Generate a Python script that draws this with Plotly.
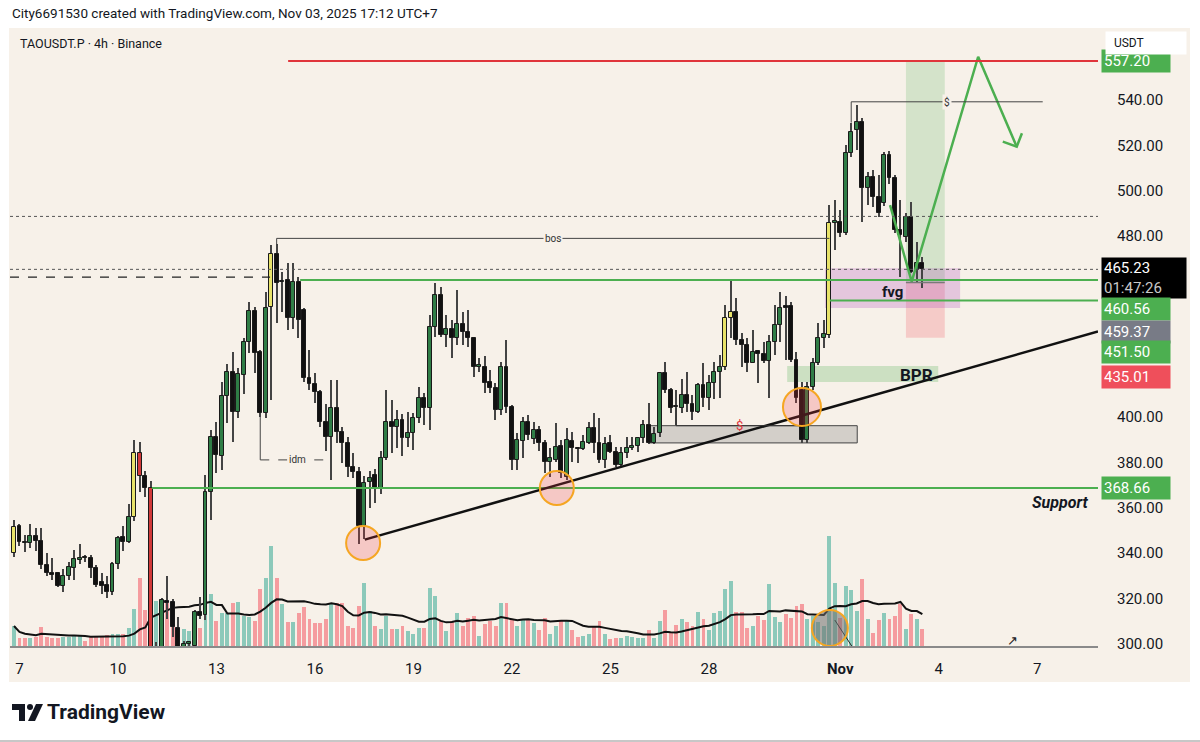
import plotly.graph_objects as go
import pandas as pd

# ---------------- data (4h candles, UTC+7) ----------------
t0 = pd.Timestamp("2025-10-06 23:00")
step = pd.Timedelta(hours=4)

opens = [340, 352, 345, 344.5, 347.5, 345.3, 334.6, 331, 331, 325.5,
         330, 333.5, 337, 338, 338, 333.5, 327, 326, 323, 335,
         347, 345, 356, 384, 374, 368.5, 285, 297, 319, 318.5,
         307, 298, 300, 299, 314, 312.6, 367, 391.2, 383, 409.3,
         420, 402.3, 418.6, 433.2, 446.8, 428.7, 401.8, 448.6, 472, 459.5,
         460.5, 443.8, 459.6, 447.3, 417.3, 414.6, 411, 397.8, 391, 404,
         393.4, 388.6, 378, 375.8, 352, 371.5, 374.4, 368.7, 382, 397.8,
         395.6, 398.7, 390.8, 393, 399.6, 408.4, 404, 439.8, 454, 436.2,
         439, 435, 441, 437.6, 435, 422.3, 422.3, 415.5, 412.8, 403,
         422, 404.5, 381, 389.4, 398, 390.5, 394.3, 388.6, 380.2, 381,
         387.2, 373.5, 389.5, 386.4, 386, 388.6, 395.2, 388.6, 381, 388.6,
         384.6, 379, 384, 386.4, 387.2, 390.6, 396.5, 388.6, 393, 419.5,
         412, 405, 404, 409.8, 406, 402.3, 414, 408.4, 415, 420,
         422, 443.8, 446.4, 434, 431.8, 424, 429, 428, 424.8, 433.2,
         440.7, 449, 449, 425.2, 412, 390, 413.3, 424, 435, 436.2,
         485.7, 486.2, 481.3, 516.6, 526.8, 530.3, 501, 506, 497.2, 494.5,
         515.7, 505.6, 482.6, 479.5, 488.4, 465, 468]
highs = [354.6, 353, 348, 353, 351, 351, 340, 338, 331.5, 333,
         336, 341.5, 344, 339, 339, 334.5, 331, 330, 336, 347.5,
         352, 361.5, 390, 389, 376, 372, 300.5, 320, 330, 319.5,
         311.6, 301, 301, 315, 320.5, 374.4, 394.3, 397.8, 415.5, 423.4,
         428.7, 421.7, 434.9, 450.8, 448.6, 429.5, 455.2, 476, 476.4, 464,
         468, 468, 462, 448.2, 429.6, 419.5, 412, 406, 416.4, 416.4,
         395.6, 391, 384, 378, 374, 376, 377, 385, 412, 407.5,
         403, 401.3, 402.3, 401.8, 413.3, 410.6, 445, 459.2, 457.4, 445,
         443, 456, 446.4, 447.3, 435.2, 426, 427, 421, 415, 424.5,
         434, 405.4, 393, 400, 401, 398, 396, 390, 386.4, 397.4,
         390, 395.2, 393.4, 386.9, 392, 397.8, 401.8, 399.6, 391, 392,
         386.8, 386.8, 391, 391, 391.2, 398.7, 406.2, 395.6, 420, 424.3,
         413, 412, 417, 420, 409.8, 415, 424, 418.6, 424.3, 427.4,
         449.5, 460.5, 452.6, 437, 435, 438.5, 429.5, 433, 436.2, 449.5,
         455.2, 453.5, 451, 428.7, 415.5, 415.5, 426, 441.5, 443, 493.6,
         496, 491.4, 520, 530, 537.8, 532, 508.2, 509, 507, 517,
         517.4, 507, 495.8, 490, 495, 477.3, 470.7]
lows = [338.2, 343, 340.5, 342, 341, 333, 330, 328, 325, 323,
        328, 328, 335, 336, 329, 325, 321.7, 320, 321.5, 333,
        341, 344.5, 354, 367, 364.6, 230, 270, 290, 311, 303,
        292, 290, 294, 297, 311, 310.4, 354.6, 375.3, 376.6, 397.4,
        389, 399.6, 410.2, 428.3, 419.5, 400, 399.6, 407.5, 441.5, 446.4,
        438.5, 439, 435, 415.5, 412, 406.2, 395.6, 385, 372.2, 388.6,
        379.7, 373.5, 373, 344, 346, 360, 362, 366, 381, 384,
        386.5, 383, 386.8, 385.5, 397.4, 396.5, 394.3, 435.4, 435.4, 431,
        426, 432, 432, 431, 417.8, 420, 410.6, 410.6, 398.7, 401,
        402, 376.6, 376.6, 382, 390, 388, 385, 375.3, 373.5, 380,
        373, 372.2, 380.2, 379.7, 385.5, 388, 384, 379.7, 377.5, 384,
        378, 378.5, 382, 385.5, 384.6, 388.6, 388, 388, 391.2, 410.6,
        401.8, 396.5, 402, 402.3, 398.7, 402, 404.5, 403, 408, 408.4,
        420.8, 435, 432, 422, 420, 423.7, 415, 423.7, 408.4, 427.4,
        433.2, 425, 424.5, 406.2, 388.6, 388.6, 412, 423, 430.5, 435,
        473.8, 479.5, 480.4, 515, 518, 486, 493.6, 492.8, 488.4, 493,
        503, 481.3, 461.8, 477.3, 463.6, 459.2, 457]
closes = [351.5, 345, 344.3, 347.5, 345.5, 334.6, 331, 330.2, 325.5, 330,
          334, 337.5, 338, 337.6, 333.5, 326, 325.5, 323, 335, 346.7,
          345, 356, 384, 374, 368.5, 285, 295, 319.2, 318, 307.3,
          298, 300, 300.5, 314, 312, 367, 391.2, 383.3, 409.3, 420,
          402.3, 419, 433.2, 446.8, 428.3, 401.8, 448.2, 472, 459.2, 460,
          443.8, 459.6, 442.9, 417.3, 414.6, 411, 397.8, 391.2, 404, 393.4,
          388.6, 378, 375.8, 352, 371, 373.3, 368.7, 382, 397.8, 395.6,
          398.7, 390.8, 393, 399.6, 408.4, 404, 439.8, 454, 436.2, 438.9,
          434.9, 441, 437.6, 435, 422.1, 422.8, 415, 412.8, 403.1, 422,
          404.5, 381, 390, 397.8, 392, 394.5, 388.6, 380.2, 382, 386.8,
          375.3, 390, 386.4, 386, 389, 395.2, 388.6, 381, 388, 384.6,
          378.9, 384, 386.4, 387.2, 390.6, 396.5, 388.6, 392.5, 419.5, 412,
          404, 404.3, 409.8, 405.8, 402.3, 414.2, 408.4, 415, 420, 422,
          443.8, 446.4, 434, 431.8, 424, 428.7, 428, 424.8, 433.2, 440.7,
          448.2, 448, 425.2, 408.4, 390, 413.3, 424, 434.9, 436.6, 485.7,
          486.4, 481.3, 516.6, 525.9, 530.3, 501.1, 506, 497.2, 490, 515.7,
          505.6, 482.6, 480.4, 488.4, 464, 468, 465.23]
volumes = [20, 8.3, 8.3, 8.3, 9, 19, 9, 8.3, 8.3, 9,
           9, 10, 10, 5, 9, 9, 10, 11, 12.3, 12.3,
           12.3, 18, 36.7, 68, 35.7, 150, 45, 43, 43, 36.7,
           18.3, 16.7, 15, 31.7, 18.3, 45, 51.7, 25, 33.3, 33.3,
           43.3, 44.3, 30, 29, 25, 56.7, 68.3, 100, 68.3, 41.7,
           24.3, 24.3, 33.3, 39, 26.7, 23.3, 23.3, 26.7, 41.7, 43.3,
           43.3, 20, 18.3, 40, 62.7, 35, 20, 16.7, 30, 16.7,
           16.7, 20, 15, 11.7, 18.3, 18.3, 57.7, 50, 25, 15,
           25, 33.3, 20, 28.3, 30, 10, 21.7, 25, 20, 43.3,
           43.3, 26.7, 20, 25.7, 26.7, 23.3, 16, 28.3, 11.7, 20,
           25, 25, 15.7, 9, 10, 12.3, 20, 25, 12.3, 6.7,
           8.3, 7.7, 10, 9, 8.3, 8.3, 15.7, 8.3, 25, 35.7,
           13.3, 21, 26.7, 24.3, 20, 34, 26.7, 15.7, 33.3, 35,
           56.7, 65, 34, 34, 17.7, 20, 30, 25.7, 62.3, 29,
           24.3, 31.7, 28.3, 40, 41.7, 26.7, 30, 24.3, 20, 110,
           63.3, 28.3, 60, 55.7, 35, 66.7, 26.7, 13.3, 25.7, 33.3,
           26.7, 30, 41.7, 16.7, 31.7, 26.7, 16.7]

yellow_idx = [0, 22, 47, 130, 131, 149]
red_idx = [23, 25]

# price-axis labels
tick_prices = [300, 320, 340, 360, 380, 400, 480, 500, 520, 540]
x_tick_days = ["2025-10-07", "2025-10-10", "2025-10-13", "2025-10-16", "2025-10-19", "2025-10-22",
               "2025-10-25", "2025-10-28", "2025-11-01", "2025-11-04", "2025-11-07"]
x_tick_text = ["7", "10", "13", "16", "19", "22", "25", "28", "<b>Nov</b>", "4", "7"]

level_target = 557.20
level_last = 465.23
level_hi = 460.56
level_entry = 459.37
level_fvg = 451.50
level_stop = 435.01
level_support = 368.66
level_dashed = 461.8
level_dotted = 488.6

# ---------------- helpers ----------------
def T(idx):
    return (t0 + pd.Timedelta(hours=4 * idx)).strftime("%Y-%m-%d %H:%M:%S")

def PX(px):
    return (px - 10) / 1088.0

def PY(py):
    return (646 - py) / 616.0

n = len(opens)
times = [T(i) for i in range(n)]
X_LEFT, X_RIGHT = T(-0.73), T(198.1)
BEIGE = "#f7f1e9"
GREEN_LINE = "#4caf50"
FONT = "Roboto"

body_col = []
for i in range(n):
    if i in yellow_idx:
        body_col.append("#e8e36a")
    elif i in red_idx:
        body_col.append("#d23a3a")
    elif closes[i] >= opens[i]:
        body_col.append("#2f7d46")
    else:
        body_col.append("#111111")
vol_col = ["rgba(8,153,129,0.45)" if closes[i] >= opens[i] else "rgba(242,54,69,0.45)" for i in range(n)]
vol_ma = pd.Series(volumes).rolling(14, min_periods=1).mean()

bar_w = 4 * 3600 * 1000 * 0.72
wick_w = 4 * 3600 * 1000 * 0.2

fig = go.Figure()
# volume (main y, hidden)
fig.add_trace(go.Bar(x=times, y=volumes, marker=dict(color=vol_col, line=dict(width=0)),
                     width=bar_w, yaxis="y", hoverinfo="skip"))
fig.add_trace(go.Scatter(x=times, y=vol_ma, mode="lines", line=dict(color="#111111", width=2),
                         yaxis="y", hoverinfo="skip"))
# wicks
fig.add_trace(go.Bar(x=times, y=[h - l for h, l in zip(highs, lows)], base=lows,
                     marker=dict(color="#444444", line=dict(width=0)), width=wick_w,
                     yaxis="y2", hoverinfo="skip"))
# bodies
fig.add_trace(go.Bar(x=times, y=[max(abs(c - o), 0.45) for o, c in zip(opens, closes)],
                     base=[min(o, c) for o, c in zip(opens, closes)],
                     marker=dict(color=body_col, line=dict(color="#1a1a1a", width=1)),
                     width=bar_w, yaxis="y2", hoverinfo="skip"))
# green projection path
v_idx = [160.1, 164.05, 176.2, 183.25]
v_px = [493.6, 459.8, 559.1, 519.4]
fig.add_trace(go.Scatter(x=[T(i) for i in v_idx], y=v_px, mode="lines",
                         line=dict(color=GREEN_LINE, width=2.5), yaxis="y2", hoverinfo="skip"))
head_idx = [180.7, 183.25, 184.2]
head_px = [521.6, 519.4, 525.3]
fig.add_trace(go.Scatter(x=[T(i) for i in head_idx], y=head_px, mode="lines",
                         line=dict(color=GREEN_LINE, width=2.5), yaxis="y2", hoverinfo="skip"))

shapes = []
def hline(y, i0, i1, color, width, dash="solid", layer="above"):
    shapes.append(dict(type="line", xref="x", yref="y2", x0=i0 if isinstance(i0, str) else T(i0),
                       x1=i1 if isinstance(i1, str) else T(i1), y0=y, y1=y,
                       line=dict(color=color, width=width, dash=dash), layer=layer))

def seg(i0, y0, i1, y1, color, width, dash="solid"):
    shapes.append(dict(type="line", xref="x", yref="y2", x0=T(i0), x1=T(i1), y0=y0, y1=y1,
                       line=dict(color=color, width=width, dash=dash), layer="above"))

def box(i0, i1, y0, y1, fill, line_color=None):
    shapes.append(dict(type="rect", xref="x", yref="y2", x0=T(i0), x1=T(i1), y0=y0, y1=y1,
                       fillcolor=fill, line=dict(width=1 if line_color else 0, color=line_color or fill),
                       layer="below"))

# background
shapes.append(dict(type="rect", xref="paper", yref="paper", x0=PX(9), x1=PX(1190), y0=PY(682), y1=PY(28),
                   fillcolor=BEIGE, line=dict(width=0), layer="below"))
# zones
box(163.0, 170.1, level_entry, level_target, "rgba(76,175,80,0.2)")
box(163.0, 170.1, level_stop, level_entry, "rgba(242,54,69,0.2)")
box(148.2, 172.9, 448.2, 465.7, "rgba(171,71,188,0.25)")
box(141.3, 168.9, 415.5, 422.6, "rgba(76,175,80,0.25)")
box(116.0, 154.1, 388.6, 396.2, "rgba(120,120,120,0.28)", "#444444")
# lines
hline(level_dotted, X_LEFT, X_RIGHT, "#555555", 1, "dot")
hline(level_last, X_LEFT, X_RIGHT, "#555555", 1, "dot")
hline(level_dashed, X_LEFT, 46.8, "#222222", 1.3, "dash")
hline(level_target, 50.1, X_RIGHT, "#e0353b", 2)
hline(level_hi, 52.3, X_RIGHT, GREEN_LINE, 2)
hline(level_fvg, 149.1, X_RIGHT, GREEN_LINE, 2)
hline(level_support, 25.2, X_RIGHT, GREEN_LINE, 2)
hline(level_entry, 163.0, 170.1, "#7a7a7a", 1.5)
# trendline
seg(64.1, 345.9, 198.1, 437.8, "#111111", 2.5)
# brackets
seg(48, 476.4, 48, 478.9, "#444444", 1)
seg(48, 478.9, 149, 478.9, "#444444", 1)
seg(45, 401.8, 45, 381.1, "#444444", 1)
seg(45, 381.1, 58.1, 381.1, "#444444", 1, "dash")
seg(153, 530, 153, 539.2, "#444444", 1)
seg(153, 539.2, 188, 539.2, "#444444", 1)
seg(121, 404, 121, 396.2, "#333333", 1)
seg(121, 396.2, 144, 396.2, "#333333", 1)
seg(150.0, 310.4, 153.1, 298.9, "#222222", 1)

# circles
circles = [(63.8, 344.4, 17, "rgba(242,54,69,0.22)"), (99.2, 368.7, 17, "rgba(242,54,69,0.22)"),
           (144.0, 404.5, 19, "rgba(242,54,69,0.22)"), (149.1, 306.9, 18, "rgba(110,110,110,0.55)")]
for ci, cp, r, fc in circles:
    shapes.append(dict(type="circle", xref="x", yref="y2", xsizemode="pixel", ysizemode="pixel",
                       xanchor=T(ci), yanchor=cp, x0=-r, x1=r, y0=-r, y1=r,
                       fillcolor=fc, line=dict(color="#f5a623", width=2), layer="above"))

# logo
shapes.append(dict(type="rect", xref="paper", yref="paper", x0=PX(12), x1=PX(25), y0=PY(710), y1=PY(704),
                   fillcolor="#131722", line=dict(width=0)))
shapes.append(dict(type="rect", xref="paper", yref="paper", x0=PX(19), x1=PX(25), y0=PY(721), y1=PY(704),
                   fillcolor="#131722", line=dict(width=0)))
shapes.append(dict(type="circle", xref="paper", yref="paper", x0=PX(27), x1=PX(33), y0=PY(710), y1=PY(704),
                   fillcolor="#131722", line=dict(width=0)))
shapes.append(dict(type="path", xref="paper", yref="paper",
                   path=f"M {PX(36)},{PY(704)} L {PX(43)},{PY(704)} L {PX(35)},{PY(721)} L {PX(28)},{PY(721)} Z",
                   fillcolor="#131722", line=dict(width=0)))
shapes.append(dict(type="line", xref="paper", yref="paper", x0=PX(0), x1=PX(1200), y0=PY(741), y1=PY(741),
                   line=dict(color="#b5b5b5", width=1.5)))

ann = []
def dtext(i, y, text, size, color="#131722", bg=None, bold=False):
    ann.append(dict(xref="x", yref="y2", x=T(i), y=y, text=("<b>%s</b>" % text) if bold else text,
                    showarrow=False, font=dict(size=size, color=color, family=FONT),
                    bgcolor=bg, borderpad=1, xanchor="center", yanchor="middle"))

dtext(98.5, 478.9, "bos", 10, "#333333", BEIGE)
dtext(51.9, 381.1, "idm", 10, "#333333", BEIGE)
dtext(170.5, 539.2, "$", 10, "#333333", BEIGE)
dtext(132.5, 396.4, "$", 13, "#e0353b", None)
dtext(160.5, 455.4, "fvg", 15, "#131722", None, True)
dtext(165.0, 418.6, "BPR", 17, "#131722", None, True)
ann.append(dict(xref="x", yref="y2", x=T(191.2), y=362.5, text="<b><i>Support</i></b>", showarrow=False,
                font=dict(size=16, color="#131722", family=FONT), xanchor="center", yanchor="middle"))
dtext(182.4, 301.5, "↗", 13, "#222222", None)

# price-axis colored labels
labels = [(level_target, "#4caf50", 0), (level_last, "#000000", -9), (level_hi, "#4caf50", -29.5),
          (level_entry, "#787b86", -49.3), (level_fvg, "#4caf50", -52), (level_stop, "#ef4f5b", -39),
          (level_support, "#4caf50", 0)]
for v, c, sh in labels:
    if v == level_last:
        txt = "%.2f<br><span style='color:#c9c9c9'>01:47:26</span>" % v
        w, h = 80, 36
    else:
        txt = "%.2f" % v
        w, h = 64, 18
    ann.append(dict(xref="paper", yref="y2", x=1, y=v, xanchor="left", yanchor="middle", xshift=3, yshift=sh,
                    text=txt, showarrow=False, align="left", width=w, height=h, borderpad=2,
                    bgcolor=c, font=dict(size=15, color="white", family=FONT)))
ann.append(dict(xref="paper", yref="paper", x=PX(1105), y=PY(43), xanchor="left", yanchor="middle",
                text="&nbsp;&nbsp;USDT", showarrow=False, align="left", width=76, height=18, borderpad=2,
                bgcolor="white", font=dict(size=12, color="#131722", family=FONT)))
# header / footer texts
ann.append(dict(xref="paper", yref="paper", x=PX(10), y=PY(13), xanchor="left", yanchor="middle",
                text="City6691530 created with TradingView.com, Nov 03, 2025 17:12 UTC+7", showarrow=False,
                font=dict(size=13.5, color="#131722", family=FONT)))
ann.append(dict(xref="paper", yref="paper", x=PX(18), y=PY(44), xanchor="left", yanchor="middle",
                text="TAOUSDT.P · 4h · Binance", showarrow=False,
                font=dict(size=12.5, color="#131722", family=FONT)))
ann.append(dict(xref="paper", yref="paper", x=PX(45), y=PY(712), xanchor="left", yanchor="middle",
                text="<b>TradingView</b>", showarrow=False,
                font=dict(size=21, color="#131722", family=FONT)))

fig.update_layout(
    width=1200, height=742, margin=dict(l=10, r=102, t=30, b=96),
    paper_bgcolor="white", plot_bgcolor=BEIGE, showlegend=False, barmode="overlay", bargap=0,
    shapes=shapes, annotations=ann,
    xaxis=dict(type="date", range=[X_LEFT, X_RIGHT], showgrid=False, zeroline=False,
               tickvals=[d + " 03:00:00" for d in x_tick_days], ticktext=x_tick_text,
               tickfont=dict(size=15, color="#131722", family=FONT), ticks="",
               showline=True, linecolor="#8a8a8a", linewidth=2, ticklabelstandoff=8),
    yaxis=dict(range=[0, 616], visible=False, fixedrange=True),
    yaxis2=dict(overlaying="y", side="right", range=[298.94, 570.9], showgrid=False, zeroline=False,
                tickvals=tick_prices, ticktext=["%.2f" % p for p in tick_prices], ticks="",
                tickfont=dict(size=15, color="#131722", family=FONT), ticklabelstandoff=18),
)
fig.write_html("out.html")
